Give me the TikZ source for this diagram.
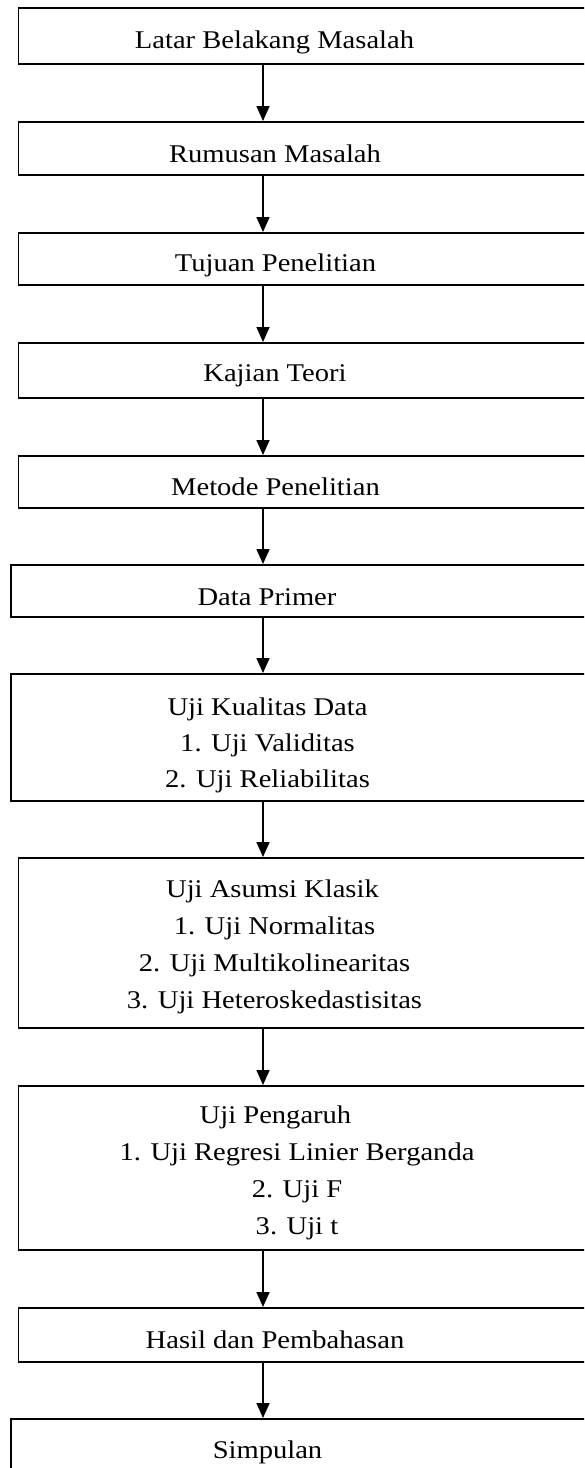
\documentclass[tikz,border=0pt]{standalone}
\usepackage{fontspec}
\usetikzlibrary{arrows.meta}
\newfontfamily\tnr[FakeStretch=1.12]{Liberation Serif}

\begin{document}
\begin{tikzpicture}[x=1pt,y=-1pt,
box/.style={draw,line width=1.8pt,rectangle,anchor=north west,minimum width=640pt,inner sep=0pt},
txt/.style={font={\tnr\fontsize{25.5pt}{37pt}\selectfont},align=center,inner sep=0pt,anchor=base},
arr/.style={line width=1.7pt,-{Triangle[length=15pt,width=13pt]}}
]
\useasboundingbox (0,0) rectangle (584,1468);
\clip (0,0) rectangle (584,1468);

\coordinate (axis) at (263,0);

\node[box,minimum height=56pt] (latar) at (17.5,7) {};
\node[box,minimum height=53pt] (rumusan) at (17.5,121) {};
\node[box,minimum height=52pt] (tujuan) at (17.5,232) {};
\node[box,minimum height=55pt] (kajian) at (17.5,342) {};
\node[box,minimum height=52pt] (metode) at (17.5,455) {};
\node[box,minimum height=52pt] (data) at (10,564) {};
\node[box,minimum height=127pt] (kualitas) at (10,673) {};
\node[box,minimum height=170pt] (asumsi) at (17.5,857) {};
\node[box,minimum height=164pt] (pengaruh) at (17.5,1085) {};
\node[box,minimum height=54pt] (hasil) at (17.5,1307) {};
\node[box,minimum height=100pt] (simpulan) at (10,1418) {};

% multi-line texts sit on the baseline of their last line
\node[txt] (t-latar) at (274.5,48) {Latar Belakang Masalah};
\node[txt] (t-rumusan) at (275,162) {Rumusan Masalah};
\node[txt] (t-tujuan) at (275.5,271) {Tujuan Penelitian};
\node[txt] (t-kajian) at (275,381) {Kajian Teori};
\node[txt] (t-metode) at (275.5,495) {Metode Penelitian};
\node[txt] (t-data) at (267,605) {Data Primer};
\node[txt,font={\tnr\fontsize{25.5pt}{36pt}\selectfont}] (t-kualitas) at (267.5,787)
  {Uji Kualitas Data\\1. Uji Validitas\\2. Uji Reliabilitas};
\node[txt] (t-asumsi) at (274.5,1008)
  {Uji Asumsi Klasik\hspace*{4pt}\\1. Uji Normalitas\hspace*{18pt}\\2. Uji Multikolinearitas\\3. Uji Heteroskedastisitas};
\node[txt] (t-pengaruh) at (275.5,1234)
  {Uji Pengaruh\\\hspace*{43pt}1. Uji Regresi Linier Berganda\\\hspace*{43pt}2. Uji F\\\hspace*{43pt}3. Uji t};
\node[txt] (t-hasil) at (275,1348) {Hasil dan Pembahasan};
\node[txt] (t-simpulan) at (267.5,1458) {Simpulan};

\foreach \a/\b in {latar/rumusan,rumusan/tujuan,tujuan/kajian,kajian/metode,metode/data,
  data/kualitas,kualitas/asumsi,asumsi/pengaruh,pengaruh/hasil,hasil/simpulan} {
\draw[arr] (\a.south -| axis) -- (\b.north -| axis);
};
\end{tikzpicture}
\end{document}
